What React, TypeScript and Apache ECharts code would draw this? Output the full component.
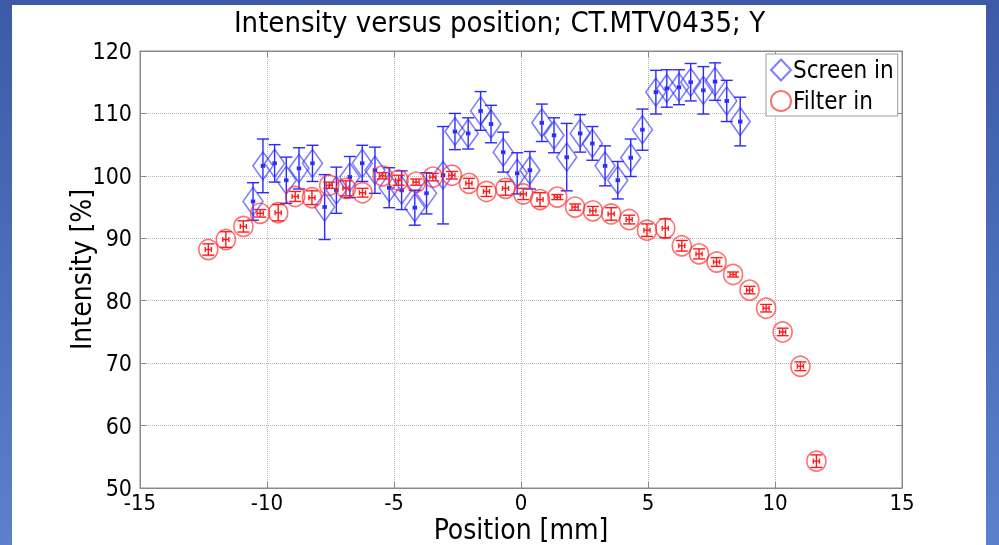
import React, { useEffect, useRef } from 'react';
import * as echarts from 'echarts';

const TITLE = 'Intensity versus position; CT.MTV0435; Y';
const X_NAME = 'Position [mm]';
const Y_NAME = 'Intensity [%]';
const SERIES_NAMES = ['Screen in', 'Filter in'];

// "Screen in" (blue diamonds)
const SCREEN_X = [-10.55, -10.16, -9.70, -9.24, -8.74, -8.21, -7.73, -7.27, -6.74, -6.25, -5.75, -5.19, -4.70, -4.18, -3.72, -3.07, -2.60, -2.08, -1.59, -1.18, -0.70, -0.15, 0.35, 0.82, 1.30, 1.80, 2.33, 2.81, 3.31, 3.81, 4.32, 4.78, 5.31, 5.74, 6.22, 6.68, 7.18, 7.64, 8.10, 8.63];
const SCREEN_Y = [95.9, 101.6, 102.0, 99.3, 101.2, 102.0, 95.0, 97.7, 99.8, 102.0, 100.9, 98.1, 97.7, 94.9, 97.2, 100.1, 107.1, 106.8, 110.4, 108.3, 103.8, 100.4, 100.9, 108.5, 106.5, 103.0, 106.8, 105.2, 101.6, 99.3, 102.9, 107.4, 113.4, 114.0, 114.2, 115.0, 113.7, 115.1, 112.0, 108.7];
const SCREEN_ERR = [3.0, 4.3, 3.0, 3.7, 3.3, 2.9, 5.2, 3.7, 3.3, 2.9, 3.7, 3.2, 3.1, 2.8, 3.3, 7.8, 2.9, 2.5, 3.1, 3.0, 3.2, 3.3, 3.0, 3.0, 2.8, 5.4, 3.0, 2.7, 3.2, 3.0, 3.0, 3.3, 3.5, 3.0, 2.8, 3.0, 3.8, 3.0, 3.3, 3.9];
const SCREEN_XERR = 0.06;

// "Filter in" (red circles)
const FILTER_X = [-12.31, -11.62, -10.93, -10.27, -9.56, -8.89, -8.23, -7.55, -6.89, -6.24, -5.45, -4.82, -4.13, -3.47, -2.72, -2.05, -1.36, -0.61, 0.09, 0.75, 1.43, 2.13, 2.83, 3.55, 4.26, 4.96, 5.68, 6.33, 7.01, 7.70, 8.35, 9.00, 9.65, 10.30, 11.00, 11.63];
const FILTER_Y = [88.2, 89.8, 91.9, 94.0, 94.1, 96.7, 96.5, 98.5, 98.0, 97.3, 100.0, 99.3, 99.0, 99.8, 100.1, 98.8, 97.5, 98.0, 97.1, 96.2, 96.6, 95.0, 94.4, 93.9, 93.0, 91.3, 91.6, 88.8, 87.5, 86.2, 84.2, 81.7, 78.8, 75.0, 69.5, 54.3];
const FILTER_ERR = [0.9, 1.25, 0.9, 0.6, 1.3, 0.8, 1.1, 0.5, 1.2, 0.7, 0.5, 0.8, 0.5, 0.6, 0.6, 0.8, 0.8, 1.1, 0.9, 1.1, 0.4, 0.5, 0.7, 1.0, 0.7, 1.0, 1.5, 0.85, 0.8, 0.7, 0.4, 0.6, 0.6, 0.6, 0.7, 1.0];
const FILTER_XERR = 0.12;

const FONT_NARROW = "'Liberation Sans Narrow', 'Arial Narrow', 'DejaVu Sans Condensed', 'Liberation Sans', Arial, sans-serif";

function makeErrRender(color: string, capHalf: number, xCapHalf: number, dot: boolean) {
  return (params: any, api: any) => {
    const x = api.value(0);
    const y = api.value(1);
    const e = api.value(2);
    const xe = api.value(3);
    const top = api.coord([x, y + e]);
    const bot = api.coord([x, y - e]);
    const l = api.coord([x - xe, y]);
    const r = api.coord([x + xe, y]);
    const style = { stroke: color, lineWidth: 1.4 };
    const children: any[] = [
      { type: 'line', shape: { x1: top[0], y1: top[1], x2: bot[0], y2: bot[1] }, style },
      { type: 'line', shape: { x1: top[0] - capHalf, y1: top[1], x2: top[0] + capHalf, y2: top[1] }, style },
      { type: 'line', shape: { x1: bot[0] - capHalf, y1: bot[1], x2: bot[0] + capHalf, y2: bot[1] }, style },
      { type: 'line', shape: { x1: l[0], y1: l[1], x2: r[0], y2: r[1] }, style },
      { type: 'line', shape: { x1: l[0], y1: l[1] - xCapHalf, x2: l[0], y2: l[1] + xCapHalf }, style },
      { type: 'line', shape: { x1: r[0], y1: r[1] - xCapHalf, x2: r[0], y2: r[1] + xCapHalf }, style },
    ];
    if (dot) {
      children.push({ type: 'circle', shape: { cx: l[0] + (r[0] - l[0]) / 2, cy: l[1], r: 1.6 }, style: { fill: color } });
    }
    return { type: 'group', children };
  };
}

export default function App() {
  const ref = useRef<HTMLDivElement>(null);
  useEffect(() => {
    const chart = echarts.init(ref.current!, null, { renderer: 'svg' });
    const axisCommon = {
      axisLine: { show: true, onZero: false, lineStyle: { color: '#8a8a8a', width: 1 } },
      axisTick: { show: true, inside: true, length: 6, lineStyle: { color: '#8a8a8a' } },
    };
    const option: any = {
      animation: false,
      backgroundColor: 'transparent',
      title: {
        text: TITLE,
        left: 'center',
        top: 2,
        textStyle: { fontSize: 29, fontWeight: 'normal', color: '#000', fontFamily: FONT_NARROW },
      },
      legend: {
        data: [
          { name: SERIES_NAMES[0], icon: 'diamond' },
          { name: SERIES_NAMES[1], icon: 'circle' },
        ],
        orient: 'vertical',
        left: 766,
        top: 54,
        itemWidth: 20,
        itemHeight: 21,
        itemGap: 7,
        padding: [4, 4, 3, 4],
        borderColor: '#999',
        borderWidth: 1,
        backgroundColor: '#fff',
        textStyle: { fontSize: 24, color: '#000', fontFamily: FONT_NARROW, padding: [0, 0, 0, -3] },
      },
      grid: {
        left: 140,
        right: 97,
        top: 51,
        bottom: 57,
        containLabel: false,
        outerBoundsMode: 'none',
        show: true,
        borderColor: '#8a8a8a',
        borderWidth: 1,
        backgroundColor: 'transparent',
      },
      xAxis: [
        {
          type: 'value',
          min: -15,
          max: 15,
          interval: 5,
          ...axisCommon,
          splitLine: { show: true, lineStyle: { type: 'dotted', color: '#b8b8b8' } },
          axisLabel: { fontSize: 22, lineHeight: 20, color: '#000', margin: 4, fontFamily: FONT_NARROW },
          name: X_NAME,
          nameLocation: 'middle',
          nameGap: 27,
          nameMoveOverlap: false,
          nameTextStyle: { fontSize: 28, color: '#000', fontFamily: FONT_NARROW, verticalAlign: 'top', lineHeight: 28 },
        },
        {
          type: 'value',
          position: 'top',
          min: -15,
          max: 15,
          interval: 5,
          ...axisCommon,
          axisLabel: { show: false },
          splitLine: { show: false },
        },
      ],
      yAxis: [
        {
          type: 'value',
          min: 50,
          max: 120,
          interval: 10,
          ...axisCommon,
          splitLine: { show: true, lineStyle: { type: 'dotted', color: '#b8b8b8' } },
          axisLabel: { fontSize: 23, lineHeight: 20, color: '#000', margin: 8, fontFamily: FONT_NARROW },
          name: Y_NAME,
          nameLocation: 'middle',
          nameGap: 45,
          nameMoveOverlap: false,
          nameTextStyle: { fontSize: 28, color: '#000', fontFamily: FONT_NARROW },
        },
        {
          type: 'value',
          position: 'right',
          min: 50,
          max: 120,
          interval: 10,
          ...axisCommon,
          axisLabel: { show: false },
          splitLine: { show: false },
        },
      ],
      graphic: [
        {
          type: 'rect',
          z: -20,
          silent: true,
          shape: { x: 0, y: 0, width: 999, height: 545 },
          style: {
            fill: new echarts.graphic.LinearGradient(0, 0, 0, 1, [
              { offset: 0, color: '#3c5aa7' },
              { offset: 1, color: '#5c80cb' },
            ]),
          },
        },
        {
          type: 'rect',
          z: -19,
          silent: true,
          shape: { x: 12, y: 5, width: 974, height: 540 },
          style: { fill: '#ffffff' },
        },
      ],
      series: [
        {
          name: 'screen-err',
          type: 'custom',
          renderItem: makeErrRender('#2a2aff', 6, 2, true),
          data: SCREEN_X.map((x, i) => [x, SCREEN_Y[i], SCREEN_ERR[i], SCREEN_XERR]),
          z: 3,
        },
        {
          name: SERIES_NAMES[0],
          type: 'scatter',
          symbol: 'diamond',
          symbolSize: [20, 28],
          itemStyle: { color: 'rgba(255,255,255,0)', borderColor: 'rgba(40,40,255,0.75)', borderWidth: 1.6 },
          data: SCREEN_X.map((x, i) => [x, SCREEN_Y[i]]),
          z: 4,
        },
        {
          name: 'filter-err',
          type: 'custom',
          renderItem: makeErrRender('#ff1a1a', 6, 2.5, false),
          data: FILTER_X.map((x, i) => [x, FILTER_Y[i], FILTER_ERR[i], FILTER_XERR]),
          z: 5,
        },
        {
          name: SERIES_NAMES[1],
          type: 'scatter',
          symbol: 'circle',
          symbolSize: [19, 20],
          itemStyle: { color: 'rgba(255,255,255,0)', borderColor: 'rgba(255,30,30,0.8)', borderWidth: 1.6 },
          data: FILTER_X.map((x, i) => [x, FILTER_Y[i]]),
          z: 6,
        },
      ],
    };
    chart.setOption(option);
    return () => chart.dispose();
  }, []);
  return <div ref={ref} style={{ position: 'fixed', left: 0, top: 0, width: 999, height: 545 }} />;
}
